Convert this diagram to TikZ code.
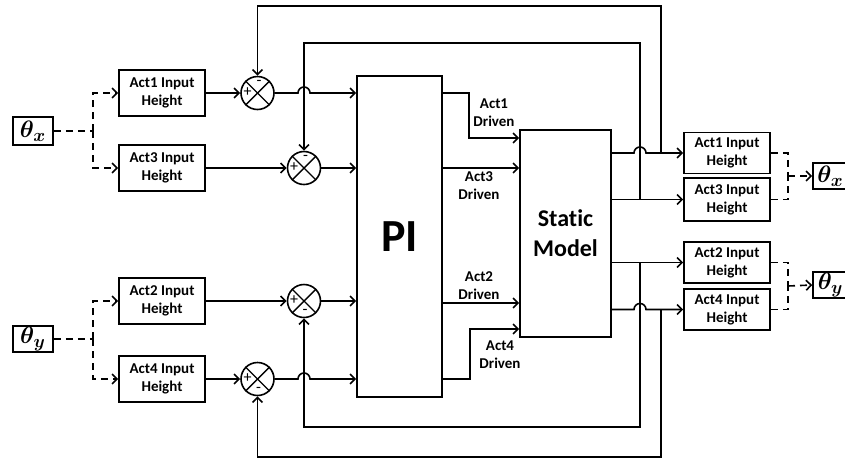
\documentclass[tikz,border=0pt]{standalone}
\usepackage{fontspec}
\setmainfont{Carlito}[Ligatures=NoCommon]
\usepackage{amsmath,bm,graphicx}
\usetikzlibrary{arrows.meta,calc}
\newcommand{\thsym}[1]{\scalebox{1.65}{$\bm{\theta_{#1}}$}}
\begin{document}
\begin{tikzpicture}[x=1pt,y=-1pt,
  line width=1.6pt,
  every node/.style={font=\bfseries\fontsize{15}{18}\selectfont, align=center, inner sep=0pt},
  blk/.style={draw, rectangle, minimum width=86pt, minimum height=46pt},
  rblk/.style={draw, rectangle, minimum width=86pt, minimum height=41pt},
  thbox/.style={draw, rectangle, minimum width=40pt, minimum height=28pt},
  sumj/.style={draw, circle, minimum size=33pt},
  sgn/.style={font=\mdseries\fontsize{16}{16}\selectfont},
  arr/.style={-{Straight Barb[length=5pt,width=10pt]}},
  dsh/.style={dash pattern=on 7pt off 5pt},
  lbl/.style={font=\bfseries\fontsize{15}{18}\selectfont}]
\useasboundingbox (0,0) rectangle (845,459);

% input theta boxes
\node[thbox] (thx) at (33,131) {\thsym{x}};
\node[thbox, minimum height=26pt] (thy) at (33,339) {\thsym{y}};

% input height blocks
\node[blk] (a1in) at (162,93) {Act1 Input\\Height};
\node[blk] (a3in) at (162,168) {Act3 Input\\Height};
\node[blk] (a2in) at (162,301) {Act2 Input\\Height};
\node[blk] (a4in) at (162,379) {Act4 Input\\Height};

% summing junctions
\node[sumj] (s1) at (257.5,93) {};
\node[sumj] (s3) at (304,168) {};
\node[sumj] (s2) at (304,301) {};
\node[sumj] (s4) at (257.5,379) {};
\foreach \s in {s1,s3,s2,s4}{
  \draw[line width=1.4pt] (\s.north east) -- (\s.south west);
  \draw[line width=1.4pt] (\s.north west) -- (\s.south east);
  \node[sgn] at ([xshift=-10pt,yshift=0.5pt]\s.center) {+};
}
\node[sgn] at ([xshift=1.5pt,yshift=10.5pt]s1.center) {-};
\node[sgn] at ([xshift=1.5pt,yshift=10.5pt]s3.center) {-};
\node[sgn] at ([xshift=1pt,yshift=-11pt]s2.center) {-};
\node[sgn] at ([xshift=1pt,yshift=-11pt]s4.center) {-};

% PI and static model
\node[draw, minimum width=85pt, minimum height=321pt, font=\bfseries\fontsize{46}{46}\selectfont] (pi) at (399.5,236.5) {PI};
\node[draw, minimum width=91pt, minimum height=207pt, font=\bfseries\fontsize{24}{30}\selectfont] (sm) at (565.5,233.5) {Static\\Model};

% output blocks
\node[rblk] (r1) at (727,153) {Act1 Input\\Height};
\node[rblk, minimum height=43pt] (r3) at (727,199.5) {Act3 Input\\Height};
\node[rblk] (r2) at (727,262.5) {Act2 Input\\Height};
\node[rblk] (r4) at (727,309.5) {Act4 Input\\Height};

\node[thbox, minimum width=42pt, minimum height=26pt] (tx) at (834,176) {\hspace*{-7pt}\thsym{x}};
\node[thbox, minimum width=42pt, minimum height=26pt] (ty) at (834,285) {\hspace*{-7pt}\thsym{y}};

% driven labels
\node[lbl] (l1) at (494,113) {Act1\\Driven};
\node[lbl] (l3) at (479,186) {Act3\\Driven};
\node[lbl] (l2) at (479,286) {Act2\\Driven};
\node[lbl] (l4) at (500,355) {Act4\\Driven};

% left dashed distribution
\coordinate (jx) at (93,131);
\coordinate (jy) at (93,339);
\draw[dsh] (thx.east) -- (jx);
\draw[dsh,arr] (jx) |- (a1in.west);
\draw[dsh,arr] (jx) |- (a3in.west);
\draw[dsh] (thy.east) -- (jy);
\draw[dsh,arr] (jy) |- (a2in.west);
\draw[dsh,arr] (jy) |- (a4in.west);

% into summers
\draw[arr] (a1in.east) -- (s1.west);
\draw[arr] (a3in.east) -- (s3.west);
\draw[arr] (a2in.east) -- (s2.west);
\draw[arr] (a4in.east) -- (s4.west);

% summers to PI
\draw[arr] (s1.east) -- (298,93) arc[start angle=180,end angle=0,radius=6pt] -- (s1.east -| pi.west);
\draw[arr] (s3.east) -- (s3.east -| pi.west);
\draw[arr] (s2.east) -- (s2.east -| pi.west);
\draw[arr] (s4.east) -- (298,379) arc[start angle=180,end angle=0,radius=6pt] -- (s4.east -| pi.west);

% PI to static model
\draw[arr] (pi.east |- s1) -- (469,93) -- (469,138) -- (sm.west |- 0,138);
\draw[arr] (pi.east |- s3) -- (sm.west |- s3);
\draw[arr] (pi.east |- 0,303) -- (sm.west |- 0,303);
\draw[arr] (pi.east |- s4) -- (470,379) -- (470,329) -- (sm.west |- 0,329);

% static model to outputs
\draw[arr] (sm.east |- r1) -- (634,153) arc[start angle=180,end angle=0,radius=6pt] -- (r1.west);
\draw[arr] (sm.east |- r3) -- (r3.west);
\draw[arr] (sm.east |- r2) -- (r2.west);
\draw[arr] (sm.east |- r4) -- (634,309.5) arc[start angle=180,end angle=0,radius=6pt] -- (r4.west);

% feedback loops
\coordinate (f1) at (661,153);
\coordinate (f3) at (640,199.5);
\coordinate (f2) at (640,262.5);
\coordinate (f4) at (661,309.5);
\draw[arr] (f1) -- (661,6) -| (s1.north);
\draw[arr] (f3) -- (640,43) -| (s3.north);
\draw[arr] (f2) -- (640,427) -| (s2.south);
\draw[arr] (f4) -- (661,457) -| (s4.south);

% right dashed combination
\coordinate (jrx) at (788,176);
\coordinate (jry) at (788,286);
\draw[dsh] (r1.east) -| (jrx);
\draw[dsh] (r3.east) -| (jrx);
\draw[dsh,arr] (jrx) -- (tx.west);
\draw[dsh] (r2.east) -| (jry);
\draw[dsh] (r4.east) -| (jry);
\draw[dsh,arr] (jry) -- (ty.west);
\end{tikzpicture}
\end{document}
